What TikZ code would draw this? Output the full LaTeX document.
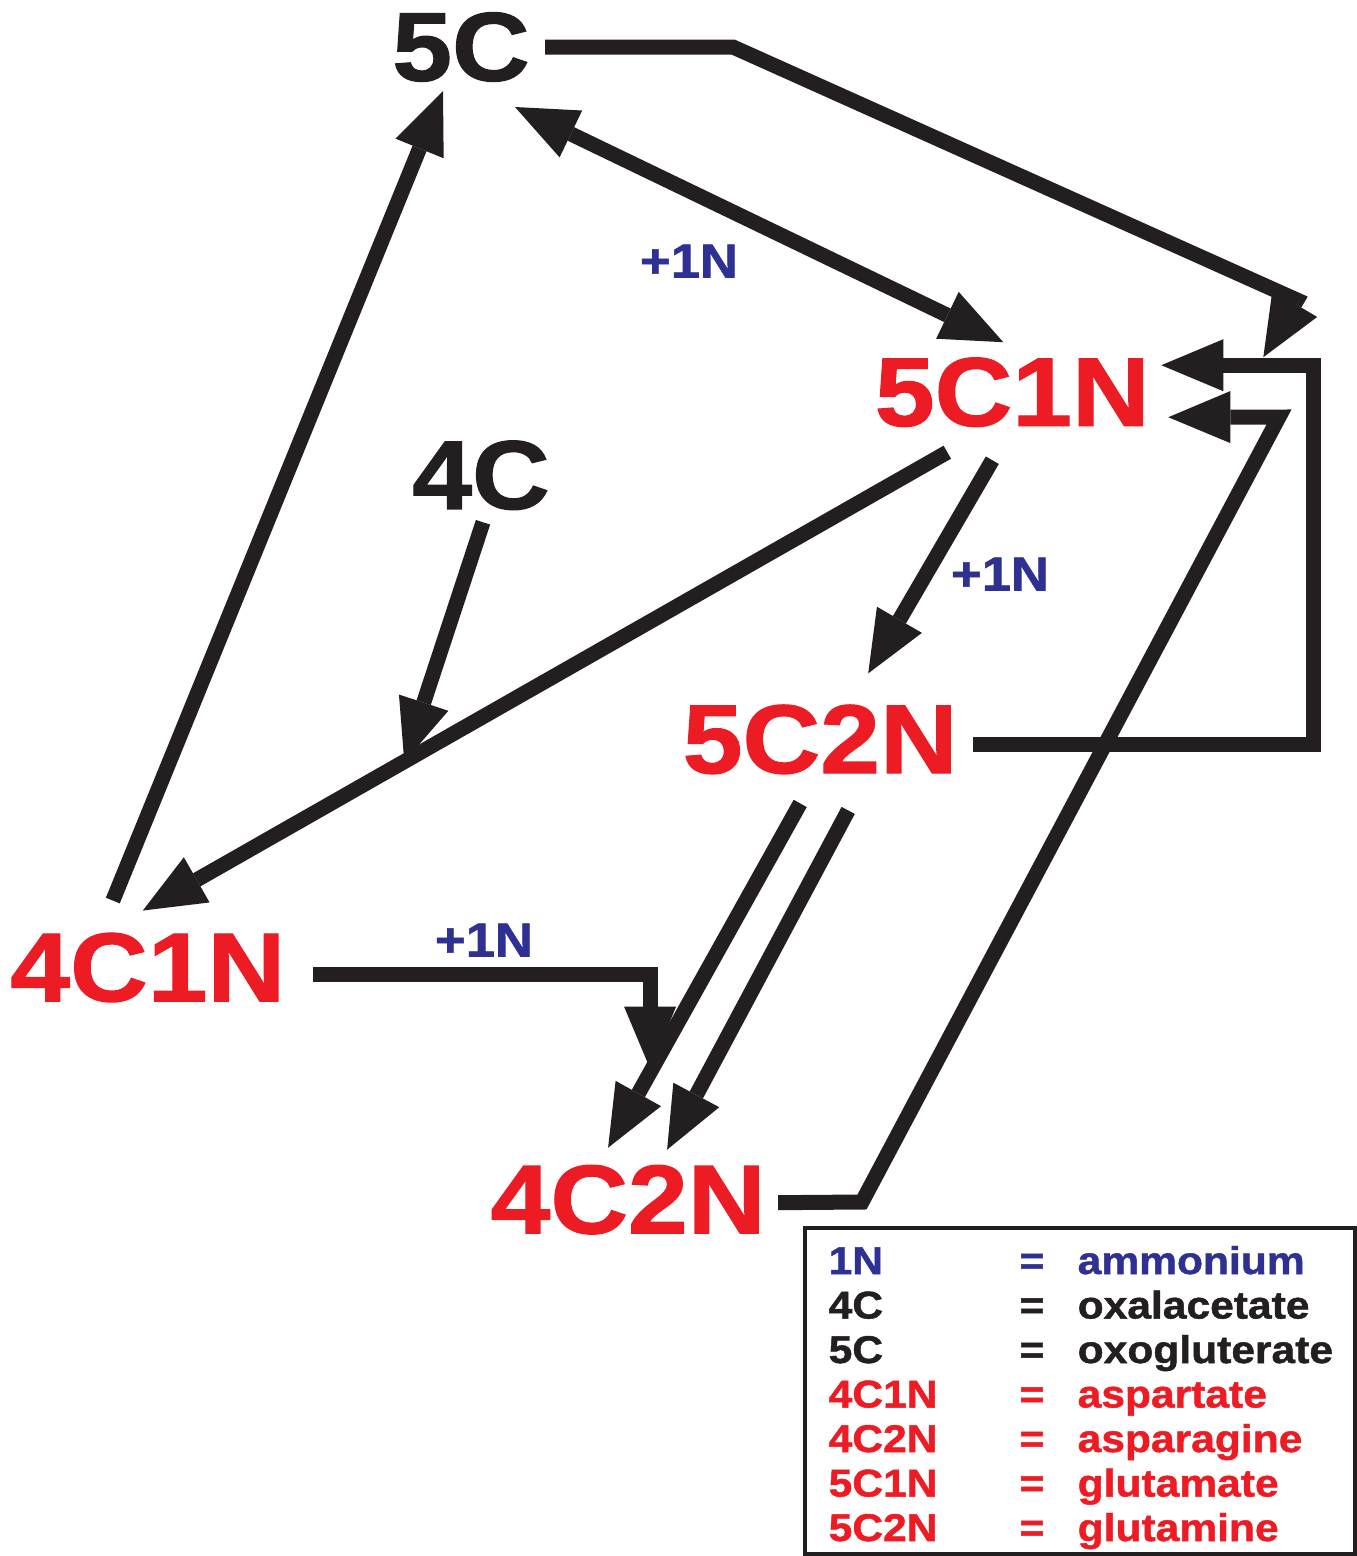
\documentclass[tikz,border=0pt]{standalone}
\usepackage{fontspec}
\setmainfont{Liberation Sans}
\newfontfamily\heavyfont{Liberation Sans}[FakeStretch=1.1,FakeBold=1.2]
\usepackage{xcolor}
\usetikzlibrary{arrows.meta, positioning, calc}
\definecolor{aminored}{RGB}{237,28,36}
\definecolor{aminoblue}{RGB}{46,49,146}
\definecolor{inkblack}{RGB}{35,31,32}

\begin{document}
\begin{tikzpicture}[x=0.01cm, y=-0.01cm, on grid,
    carbon/.style={text=inkblack, inner sep=0pt, font=\heavyfont\bfseries\fontsize{27.8}{30}\selectfont},
    amino/.style={carbon, text=aminored},
    gain/.style={text=aminoblue, inner sep=0pt, font=\heavyfont\bfseries\fontsize{13.6}{15}\selectfont},
    flow/.style={-{Triangle[length=0.62cm, width=0.52cm, line width=0pt]}, line width=0.15cm, draw=inkblack, line join=miter},
    biflow/.style={flow, {Triangle[length=0.62cm, width=0.52cm, line width=0pt]}-{Triangle[length=0.62cm, width=0.52cm, line width=0pt]}},
    legkey/.style={anchor=base west, inner sep=0pt, font=\heavyfont\bfseries\fontsize{11}{13}\selectfont},
    legeq/.style={legkey, anchor=base},
    legframe/.style={draw=inkblack, line width=0.04cm}]
\useasboundingbox (0,0) rectangle (1357,1556);

\node[carbon] (c5) at (461,47) {5C};
\node[amino] (c5n1) [below right=3.45cm and 5.51cm of c5] {5C1N};
\node[carbon] (c4) [below=4.28cm of c5, xshift=0.2cm] {4C};
\node[amino] (c5n2) [below left=3.47cm and 1.92cm of c5n1] {5C2N};
\node[amino] (c4n1) [below left=4.92cm and 3.33cm of c4] {4C1N};
\node[amino] (c4n2) [below left=4.60cm and 1.92cm of c5n2] {4C2N};

\node[gain] (g1) at (689,261) {+1N};
\node[gain] (g2) at (1000,574) {+1N};
\node[gain] (g3) at (484,940) {+1N};

\draw[flow] ($(c5)+(84,0)$) -- (733,47) -- (1297,300) -- ($(c5n1)+(251,-35)$);
\draw[biflow] ($(c5)+(54,60)$) -- ($(c5n1)+(-9,-50)$);
\draw[flow] ($(c4n1)+(-35,-67)$) -- ($(c5)+(-18,44)$);
\draw[flow] ($(c5n1)+(-65,60)$) -- coordinate[pos=0.675] (hit) ($(c4n1)+(-5,-57)$);
\draw[flow] ($(c4)+(2,47)$) -- (hit);
\draw[flow] ($(c5n1)+(-20,68)$) -- ($(c5n2)+(48,-66)$);
\draw[flow] ($(c5n2)+(153,5)$) -- ++(340,0) |- ($(c5n1)+(149,-27)$);
\draw[flow] ($(c4n2)+(150,3)$) -- (862,1202) -- (1279,417) -- ($(c5n1)+(156,25)$);
\draw[flow] ($(c4n1)+(165,7)$) -| ($(c4n2)+(22,-131)$);
\draw[flow] ($(c5n2)+(-20,64)$) -- ($(c4n2)+(-20,-52)$);
\draw[flow] ($(c5n2)+(28,71)$) -- ($(c4n2)+(39,-50)$);

% legend
\draw[legframe] (805,1228) rectangle (1355,1554);
\foreach \key/\name/\col [count=\i] in {1N/ammonium/aminoblue, 4C/oxalacetate/inkblack, 5C/oxogluterate/inkblack, 4C1N/aspartate/aminored, 4C2N/asparagine/aminored, 5C1N/glutamate/aminored, 5C2N/glutamine/aminored} {
  \node[legkey, text=\col] (key\i) at (828,{1274+44.5*(\i-1)}) {\key};
  \node[legeq, text=\col] (eq\i) at (1032,{1274+44.5*(\i-1)}) {=};
  \node[legkey, text=\col] (val\i) at (1077,{1274+44.5*(\i-1)}) {\name};
}
\end{tikzpicture}
\end{document}
